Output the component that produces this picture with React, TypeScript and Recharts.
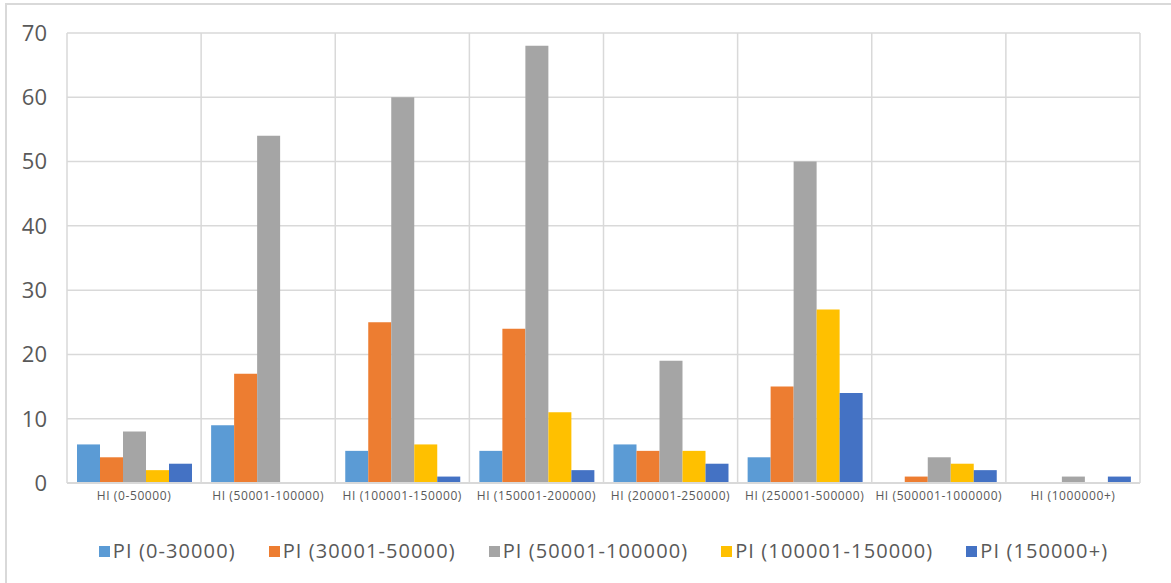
import { Bar, BarChart, CartesianGrid, Legend, XAxis, YAxis } from "recharts";

const categories = [
  "HI (0-50000)",
  "HI (50001-100000)",
  "HI (100001-150000)",
  "HI (150001-200000)",
  "HI (200001-250000)",
  "HI (250001-500000)",
  "HI (500001-1000000)",
  "HI (1000000+)",
];

const seriesNames = [
  "PI (0-30000)",
  "PI (30001-50000)",
  "PI (50001-100000)",
  "PI (100001-150000)",
  "PI (150000+)",
];

const pi0to30k = [6, 9, 5, 5, 6, 4, 0, 0];
const pi30kto50k = [4, 17, 25, 24, 5, 15, 1, 0];
const pi50kto100k = [8, 54, 60, 68, 19, 50, 4, 1];
const pi100kto150k = [2, 0, 6, 11, 5, 27, 3, 0];
const pi150kPlus = [3, 0, 1, 2, 3, 14, 2, 1];

const yTicks = [0, 10, 20, 30, 40, 50, 60, 70];

const colors = ["#5b9bd5", "#ed7d31", "#a5a5a5", "#ffc000", "#4472c4"];
const keys = ["s0", "s1", "s2", "s3", "s4"];

const data = categories.map((cat, i) => ({
  cat,
  s0: pi0to30k[i],
  s1: pi30kto50k[i],
  s2: pi50kto100k[i],
  s3: pi100kto150k[i],
  s4: pi150kPlus[i],
}));

const font = "'Open Sans', 'Noto Sans', sans-serif";
const textColor = "#595959";
const gridColor = "#d9d9d9";

function LegendContent() {
  return (
    <div
      style={{
        display: "flex",
        justifyContent: "center",
        alignItems: "center",
        gap: 33,
        fontFamily: font,
        fontSize: 20,
        letterSpacing: 1.1,
        color: textColor,
        lineHeight: "28px",
      }}
    >
      {seriesNames.map((name, i) => (
        <div key={name} style={{ display: "flex", alignItems: "center", gap: 3 }}>
          <span style={{ width: 11, height: 11, background: colors[i], display: "inline-block" }} />
          <span>{name}</span>
        </div>
      ))}
    </div>
  );
}

export default function App() {
  return (
    <div style={{ position: "relative", width: 1171, height: 583, background: "#fff", overflow: "hidden" }}>
      <style>{"body{margin:0}"}</style>
      <div
        style={{
          position: "absolute",
          left: 5,
          top: 3,
          width: 1166,
          height: 600,
          borderLeft: `2px solid ${gridColor}`,
          borderTop: `2px solid ${gridColor}`,
          boxSizing: "border-box",
        }}
      />
      <BarChart
        width={1171}
        height={583}
        data={data}
        margin={{ top: 33, right: 31, bottom: 42, left: 0 }}
        barCategoryGap={10}
        barGap={0}
        style={{ position: "absolute", left: 0, top: 0 }}
      >
        <CartesianGrid
          stroke={gridColor}
          strokeWidth={1.5}
          verticalCoordinatesGenerator={({ offset }: any) =>
            categories.map((_, i) => offset.left + (i * offset.width) / categories.length).concat(offset.left + offset.width)
          }
        />
        <XAxis
          dataKey="cat"
          axisLine={{ stroke: gridColor, strokeWidth: 2 }}
          tickLine={false}
          tick={{ fill: textColor, fontSize: 12, fontFamily: font, letterSpacing: 0.6 }}
          tickMargin={2}
          interval={0}
          height={30}
        />
        <YAxis
          domain={[0, 70]}
          ticks={yTicks}
          axisLine={false}
          tickLine={false}
          tick={{ fill: textColor, fontSize: 22, fontFamily: font }}
          tickMargin={14}
          width={67}
        />
        <Legend
          verticalAlign="bottom"
          content={LegendContent}
          wrapperStyle={{ left: 67, width: 1073, bottom: 18 }}
        />
        {keys.map((k, i) => (
          <Bar key={k} dataKey={k} name={seriesNames[i]} fill={colors[i]} isAnimationActive={false} />
        ))}
      </BarChart>
    </div>
  );
}
